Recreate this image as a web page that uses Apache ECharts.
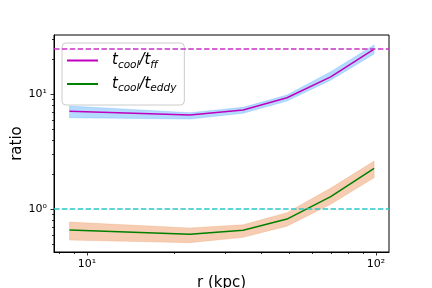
<!DOCTYPE html>
<html>
<head>
<meta charset="utf-8">
<script src="https://cdn.jsdelivr.net/npm/echarts@6/dist/echarts.min.js"></script>
<style>html,body{margin:0;padding:0;background:#fff;}#c{width:432px;height:288px;}</style>
</head>
<body>
<div id="c"></div>
<script>
// ---- data ----
const radius = [8.7, 22.7, 34.7, 49.2, 69.7, 98.5];
const ratioFF = [7.1, 6.57, 7.26, 9.29, 14.1, 24.6];
const ratioFFUpper = [7.87, 6.88, 7.66, 9.8, 15.6, 26.7];
const ratioFFLower = [6.22, 6.06, 6.8, 8.7, 13.2, 22.3];
const ratioEddy = [0.656, 0.603, 0.653, 0.818, 1.28, 2.26];
const ratioEddyUpper = [0.77, 0.684, 0.73, 0.93, 1.52, 2.61];
const ratioEddyLower = [0.537, 0.51, 0.567, 0.71, 1.1, 1.87];
const thresholdFF = 25;
const thresholdEddy = 1;
const xMajorTicks = [10, 100];
const xMinorTicks = [8, 9, 20, 30, 40, 50, 60, 70, 80, 90];
const yMajorTicks = [1, 10];
const yMinorTicks = [0.5, 0.6, 0.7, 0.8, 0.9, 2, 3, 4, 5, 6, 7, 8, 9, 20, 30];
const superDigits = {'0':'\u2070','1':'\u00b9','2':'\u00b2','3':'\u00b3'};

function powLabel(v) {
  const e = Math.log10(v);
  if (Math.abs(e - Math.round(e)) > 1e-6) return '';
  return '10' + String(Math.round(e)).split('').map(d => superDigits[d] || d).join('');
}

function bandSeries(upper, lower, fill, stroke) {
  return {
    type: 'custom', z: 1, silent: true,
    data: radius.map((r, i) => [r, upper[i], lower[i]]),
    renderItem: function (params, api) {
      if (params.dataIndex !== 0) return;
      const pts = [];
      for (let i = 0; i < radius.length; i++) pts.push(api.coord([radius[i], upper[i]]));
      for (let i = radius.length - 1; i >= 0; i--) pts.push(api.coord([radius[i], lower[i]]));
      return { type: 'polygon', shape: { points: pts }, style: { fill: fill, stroke: stroke, lineWidth: 1 } };
    }
  };
}

const tickSeries = {
  type: 'custom', z: 5, silent: true, clip: false,
  data: [[10, 1]],
  renderItem: function (params, api) {
    const cs = params.coordSys;
    const bottom = cs.y + cs.height, left = cs.x;
    const children = [];
    const st = { stroke: '#000', lineWidth: 0.8 };
    const add = (vals, len, isX) => vals.forEach(v => {
      if (isX) {
        const p = api.coord([v, 1]);
        const x = Math.round(p[0]) + 0.5;
        children.push({ type: 'line', shape: { x1: x, y1: bottom, x2: x, y2: bottom + len }, style: st });
      } else {
        const p = api.coord([10, v]);
        const y = Math.round(p[1]) + 0.5;
        children.push({ type: 'line', shape: { x1: left, y1: y, x2: left - len, y2: y }, style: st });
      }
    });
    add(xMajorTicks, 3.5, true);
    add(xMinorTicks, 2, true);
    add(yMajorTicks, 3.5, false);
    add(yMinorTicks, 2, false);
    return { type: 'group', children: children };
  }
};

const chart = echarts.init(document.getElementById('c'), null, { renderer: 'canvas' });
const font = 'DejaVu Sans';
const rich = {
  g: { width: 9, lineHeight: 20 },
  t: { fontFamily: font, fontStyle: 'italic', fontSize: 15, color: '#000', lineHeight: 20, verticalAlign: 'middle' },
  s: { fontFamily: font, fontStyle: 'italic', fontSize: 10.5, color: '#000', lineHeight: 10, verticalAlign: 'bottom' }
};
chart.setOption({
  animation: false,
  backgroundColor: '#fff',
  grid: { left: 54, right: 43, top: 35, bottom: 36, show: true, borderColor: '#000', borderWidth: 1,
          backgroundColor: 'transparent', containLabel: false, outerBoundsMode: 'none' },
  xAxis: {
    type: 'log', logBase: 10, min: 7.69, max: 110.9,
    name: 'r (kpc)', nameLocation: 'middle', nameGap: 24, nameMoveOverlap: false,
    nameTextStyle: { fontFamily: font, fontSize: 15, color: '#000' },
    axisLine: { show: true, lineStyle: { color: '#000', width: 1 } },
    axisTick: { show: false }, splitLine: { show: false }, minorTick: { show: false },
    axisLabel: { fontFamily: font, fontSize: 11, color: '#000', margin: 7, formatter: powLabel, showMinLabel: false, showMaxLabel: false }
  },
  yAxis: {
    type: 'log', logBase: 10, min: 0.423, max: 32.6,
    name: 'ratio', nameLocation: 'middle', nameGap: 29, nameMoveOverlap: false,
    nameTextStyle: { fontFamily: font, fontSize: 15, color: '#000' },
    axisLine: { show: true, lineStyle: { color: '#000', width: 1 } },
    axisTick: { show: false }, splitLine: { show: false }, minorTick: { show: false },
    axisLabel: { fontFamily: font, fontSize: 11, color: '#000', margin: 7, formatter: powLabel, showMinLabel: false, showMaxLabel: false }
  },
  legend: {
    orient: 'vertical', left: 62, top: 43,
    padding: [10, 8, 11, 5], itemGap: 6,
    itemWidth: 31, itemHeight: 2, icon: 'rect',
    backgroundColor: 'rgba(255,255,255,0.8)', borderColor: '#cccccc', borderWidth: 1, borderRadius: 4,
    data: ['ff', 'eddy'],
    formatter: function (name) {
      return name === 'ff' ? '{g|}{t|t}{s|cool}{t|/t}{s|ff}' : '{g|}{t|t}{s|cool}{t|/t}{s|eddy}';
    },
    textStyle: { rich: rich }
  },
  series: [
    bandSeries(ratioFFUpper, ratioFFLower, 'rgba(30,144,255,0.33)', 'rgba(30,144,255,0.2)'),
    bandSeries(ratioEddyUpper, ratioEddyLower, 'rgba(235,145,85,0.45)', 'rgba(235,145,85,0.25)'),
    {
      name: 'ff', type: 'line', z: 3, symbol: 'none', color: '#bf00bf',
      lineStyle: { width: 1.5, color: '#bf00bf' },
      data: radius.map((r, i) => [r, ratioFF[i]]),
      markLine: { silent: true, symbol: 'none', label: { show: false },
        lineStyle: { color: '#c535c5', width: 1.5, type: [5.5, 2.4] },
        data: [{ yAxis: thresholdFF }] }
    },
    {
      name: 'eddy', type: 'line', z: 3, symbol: 'none', color: '#008000',
      lineStyle: { width: 1.5, color: '#008000' },
      data: radius.map((r, i) => [r, ratioEddy[i]]),
      markLine: { silent: true, symbol: 'none', label: { show: false },
        lineStyle: { color: '#2ec8c8', width: 1.5, type: [5.5, 2.4] },
        data: [{ yAxis: thresholdEddy }] }
    },
    tickSeries
  ]
});
</script>
</body>
</html>
